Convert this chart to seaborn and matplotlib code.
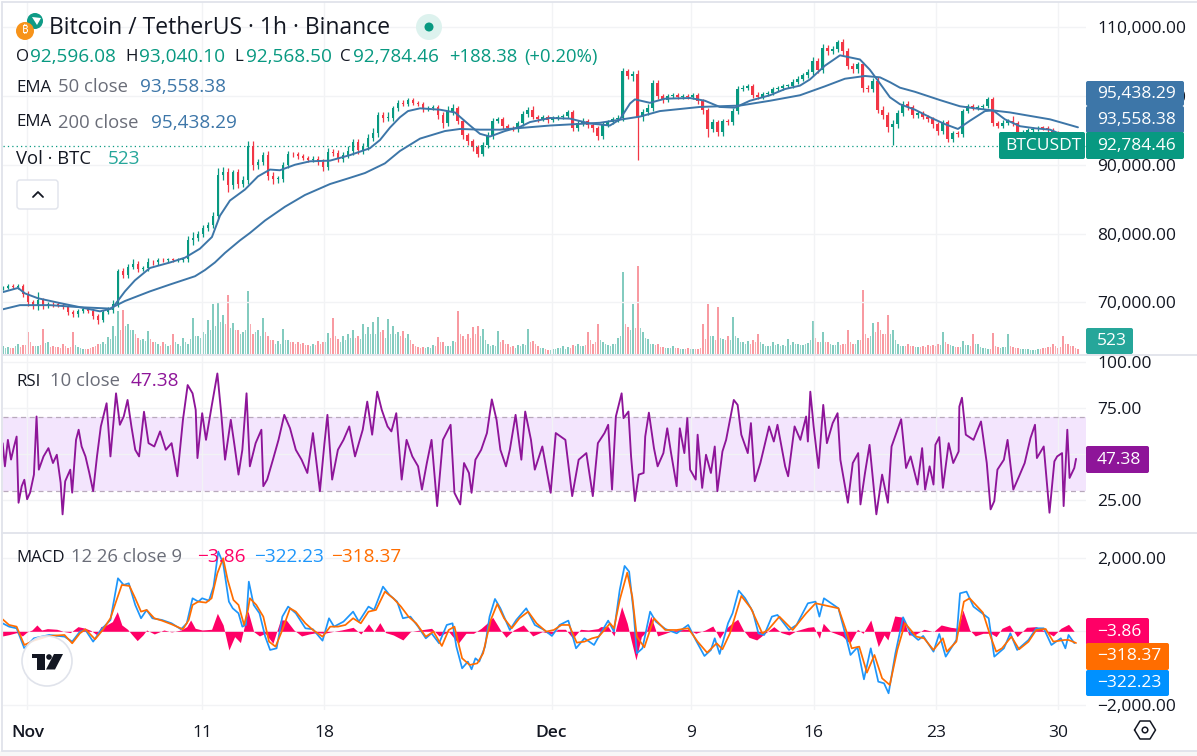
"""
BTCUSDT 1h chart with EMA, volume, RSI and MACD panels.
"""

import numpy as np
import seaborn as sns
from matplotlib import pyplot as plt
from matplotlib.lines import Line2D
from matplotlib.patches import Circle, FancyBboxPatch, Polygon, Rectangle

# days are counted from 1 Nov, prices and EMAs in thousands of USDT
close_k = [
    72.1, 72.4, 72.3, 72.4, 71.2, 70.0, 69.5, 70.3, 69.6, 69.8,
    69.7, 69.6, 69.3, 68.6, 68.3, 68.7, 69.0, 68.8, 68.0, 67.4,
    68.6, 68.9, 69.8, 74.5, 74.0, 75.2, 75.6, 74.9, 75.0, 75.9,
    75.8, 76.2, 76.1, 76.3, 76.1, 76.2, 76.3, 79.0, 79.4, 79.9,
    80.8, 81.2, 82.6, 88.5, 89.0, 87.0, 88.9, 87.2, 87.8, 92.7,
    89.9, 90.4, 91.4, 88.4, 87.9, 88.0, 89.9, 91.6, 91.5, 91.2,
    91.0, 90.7, 90.9, 90.4, 89.7, 91.8, 91.7, 90.9, 91.4, 92.0,
    93.3, 92.1, 92.7, 93.9, 94.6, 97.2, 96.8, 96.8, 98.2, 99.0,
    98.9, 99.4, 99.0, 98.8, 98.1, 98.3, 98.4, 97.2, 96.0, 97.8,
    98.3, 96.4, 94.3, 93.5, 92.6, 91.6, 92.8, 94.3, 96.4, 96.6,
    95.6, 95.4, 95.2, 96.0, 97.4, 98.0, 97.0, 96.6, 96.9, 96.5,
    96.8, 96.9, 97.1, 97.6, 95.4, 96.1, 96.4, 95.8, 95.3, 94.2,
    95.8, 96.2, 96.7, 96.8, 103.6, 102.9, 103.2, 97.0, 97.6, 98.3,
    101.9, 100.0, 99.4, 100.0, 100.1, 99.9, 100.0, 99.8, 100.1, 99.3,
    97.9, 95.2, 96.2, 94.7, 96.3, 96.2, 97.8, 101.0, 101.2, 101.4,
    100.2, 99.8, 100.3, 100.4, 101.0, 101.2, 101.5, 101.5, 102.0, 102.5,
    103.0, 103.5, 105.1, 103.8, 107.0, 106.5, 106.8, 107.8, 106.5, 104.4,
    103.9, 104.6, 101.2, 101.0, 102.2, 98.0, 97.3, 95.5, 95.9, 97.5,
    98.9, 98.4, 97.2, 97.5, 97.0, 96.6, 95.9, 94.9, 96.2, 93.8,
    94.6, 94.4, 97.8, 98.5, 98.3, 98.4, 98.6, 99.5, 96.0, 95.7,
    96.1, 96.3, 96.0, 94.5, 94.7, 95.0, 95.2, 95.4, 95.3, 95.0,
    94.6, 94.3, 93.8, 93.5, 93.2, 92.8,
]
upper_wick = [
    .3, .2, .3, .3, .3, .4, .3, 1.2, .4, .3,
    .3, .3, .3, .3, .3, .3, .4, .3, .3, .3,
    .3, .4, .5, .4, .5, .4, .7, .4, .3, .5,
    .3, .2, .3, .2, .2, .2, .2, .6, .9, .5,
    .4, .5, .5, 1.0, .7, .6, .4, .5, .6, .7,
    .7, .5, .5, .6, .5, .4, .5, .4, .3, .3,
    .3, .3, .3, .4, .4, .6, .5, .4, .5, .7,
    .5, .5, .5, .5, .7, .5, .5, .8, .4, .4,
    .4, .3, .3, .3, .3, .3, .3, .3, .4, .7,
    .5, .3, .3, .3, .3, .3, .5, .5, .4, .4,
    .3, .3, .3, .3, .4, .4, .5, .3, .4, .4,
    .3, .3, .3, .3, .3, .4, .4, .3, .3, .3,
    .4, .3, .3, .5, .4, .3, .4, .6, .5, .5,
    .4, .4, .3, .3, .3, .3, .3, .3, .3, .3,
    .3, .3, .4, .3, .3, .3, .4, .5, .4, .4,
    .3, .3, .3, .3, .3, .3, .3, .3, .4, .4,
    .4, .4, .5, .4, .5, .4, .5, .4, .5, .4,
    .4, .4, .4, .4, .4, .5, .5, .4, .6, .5,
    .4, .3, .3, .3, .3, .3, .3, .3, .3, .3,
    .3, .3, .3, .4, .3, .3, .3, .4, .3, .3,
    .4, .3, .8, .3, .3, .3, .3, .3, .3, .3,
    .3, .3, .3, .3, .3, .2,
]
lower_wick = [
    .3, .2, .3, .3, .4, .5, .5, .6, .5, .4,
    .3, .3, .3, .4, .4, .4, .3, .3, .4, .5,
    .3, .3, .4, .4, .4, .5, .4, .5, .3, .4,
    .3, .3, .2, .2, .3, .3, .4, .5, .7, .5,
    .4, .4, .4, .5, .7, .9, .5, .6, .5, .6,
    .6, .5, .5, .6, .7, .6, .5, .4, .4, .3,
    .3, .3, .3, .4, .6, .5, .4, .5, .5, .4,
    .6, .5, .5, .5, .5, .5, .6, .5, .4, .4,
    .3, .3, .3, .3, .4, .3, .3, .5, .6, .4,
    .5, .5, .5, .6, .6, .5, .4, .4, .5, .4,
    .4, .3, .3, .4, .3, .4, .4, .4, .3, .4,
    .3, .3, .3, .3, .5, .5, .4, .5, .5, .6,
    .4, .3, .3, .5, .5, .5, .7, 6.3, .6, .4,
    .5, .5, .4, .3, .3, .3, .3, .3, .3, .4,
    .5, 1.2, .5, .5, .5, .4, .4, .4, .3, .4,
    .5, .3, .3, .3, .3, .3, .3, .3, .3, .3,
    .3, .4, .5, .5, .5, .5, .4, .4, .6, .5,
    .5, .5, .6, .5, .4, .5, .6, .7, 2.7, .6,
    .4, .4, .4, .4, .4, .4, .6, .6, .5, .5,
    .5, .4, .3, .3, .4, .3, .3, .4, .3, .4,
    .3, .3, .3, .3, .3, .3, .3, .3, .3, .3,
    .3, .3, .3, .3, .3, .2,
]
# thousands of BTC
volume_k = [
    .8, .7, .6, 1.0, .9, 2.2, .8, .8, 2.5, 1.2,
    .8, .7, 1.0, .6, 2.2, .7, .5, .5, .7, 1.0,
    1.2, 1.7, 2.8, 4.3, 4.4, 3.0, 2.4, 1.6, 1.5, 2.3,
    1.2, 1.0, 1.2, .8, 2.0, 1.0, 1.6, 1.0, 3.6, 1.8,
    2.2, 3.4, 5.0, 5.1, 3.9, 5.9, 3.1, 2.4, 2.2, 6.3,
    2.0, 2.4, 3.6, 1.8, 1.4, 1.3, 2.5, 1.4, 1.2, 1.2,
    1.1, .9, 1.0, 1.3, 1.2, 2.1, 3.6, 1.5, 1.8, 2.0,
    2.4, 1.8, 3.0, 2.7, 3.2, 3.7, 2.4, 3.5, 2.8, 2.2,
    2.3, 2.0, 1.0, .7, .7, .7, .9, 1.7, 1.2, .8,
    1.3, 4.3, 1.8, 2.0, 2.7, 2.8, 2.5, 1.0, .9, 2.3,
    1.4, 1.0, .8, .9, 1.0, 2.5, 1.3, .8, .6, .4,
    .5, .6, .8, .7, .9, 1.0, .8, 2.2, 1.0, 3.0,
    1.2, .9, 1.0, 1.6, 8.2, 2.7, 5.0, 8.8, 2.2, 1.5,
    1.0, 1.0, .7, .6, .8, .6, .5, .6, .5, .5,
    3.0, 5.0, 1.8, 4.7, 1.5, 1.8, 3.7, 1.6, 1.2, 1.3,
    1.4, 2.0, 1.0, .8, 1.2, 1.0, .9, 1.5, 1.2, 1.0,
    .9, 1.1, 3.3, 1.2, 2.2, 1.2, .9, 1.2, 1.0, 2.4,
    1.0, 1.4, 6.4, 1.6, 3.1, 3.2, 2.0, 3.9, 2.4, 1.0,
    .8, 1.0, .8, .7, .8, .9, .9, 1.0, 2.2, 1.0,
    .8, .7, 1.3, .9, 2.0, 1.0, .6, .5, 2.1, .7,
    .7, 2.0, .7, .6, .5, .5, .4, .5, .6, .7,
    1.0, .6, 1.8, 1.0, .8, .52,
]
# hours in between the bars above
volume_between_k = [
    .6, .6, .8, .7, .9, 1.2, .8, .9, 1.1, .7,
    .7, .6, .8, .7, .9, .6, .5, .6, .8, 1.0,
    1.0, 1.5, 1.8, 2.4, 2.8, 2.4, 2.0, 1.4, 1.3, 1.5,
    1.2, .8, 1.0, .9, 1.2, .8, 1.2, 1.5, 1.8, 1.6,
    2.0, 2.4, 2.8, 3.2, 3.0, 2.6, 2.4, 2.0, 2.4, 3.0,
    2.2, 1.8, 2.2, 1.4, 1.0, 1.0, 1.4, 1.2, 1.0, 1.0,
    .9, .8, .9, 1.0, 1.2, 1.6, 1.8, 1.2, 1.4, 1.6,
    1.6, 1.5, 2.0, 2.0, 2.0, 2.2, 1.6, 2.0, 2.0, 1.8,
    1.6, 1.4, .8, .6, .6, .6, .8, 1.2, .8, .8,
    1.2, 2.0, 1.5, 1.6, 2.0, 1.8, 1.4, .8, .8, 1.2,
    1.0, .7, .6, .8, .9, 1.2, 1.0, .6, .5, .4,
    .5, .6, .5, .6, .8, .8, .9, 1.4, 1.2, 1.4,
    1.0, .8, 1.0, 1.8, 3.0, 2.4, 2.6, 2.6, 1.6, 1.0,
    .9, .7, .6, .6, .6, .5, .5, .5, .5, .6,
    1.5, 1.8, 1.4, 1.6, 1.4, 1.4, 1.8, 1.2, 1.0, 1.0,
    1.2, 1.2, .8, .8, .9, .8, .8, .9, 1.0, .9,
    1.0, 1.4, 1.6, 1.2, 1.2, 1.0, .9, .9, 1.0, 1.2,
    1.0, 1.4, 2.0, 1.8, 2.2, 2.4, 2.0, 2.0, 1.4, .8,
    .8, .8, .7, .7, .7, .8, .8, .9, 1.2, .9,
    .7, .7, .9, .8, 1.0, .7, .6, .5, .8, .6,
    .7, .8, .6, .5, .5, .4, .4, .5, .6, .7,
    .8, .7, 1.0, .8, .6,
]

ema50_days = [
    -1.4, -.54, -.14, .6, 1.86, 3.01, 4.15, 4.84, 5.58, 6.15, 7.01, 8.16, 9.02, 9.87,
    10.56, 11.02, 11.59, 12.45, 13.19, 13.88, 14.45, 15.31, 16.17, 17.32, 18.46, 19.6,
    20.18, 20.75, 21.32, 21.78, 22.47, 23.61, 24.47, 25.33, 25.9, 26.47, 27.33, 28.19,
    28.76, 29.91, 31.05, 32.2, 33.34, 33.91, 34.49, 34.77, 35.63, 36.49, 37.92, 38.78,
    39.63, 40.49, 41.35, 42.5, 43.36, 44.22, 44.79, 45.65, 46.51, 47.65, 48.22, 48.8,
    49.37, 49.94, 50.8, 51.66, 52.52, 53.26, 53.95, 54.81, 55.27, 55.95, 56.81, 57.67,
    58.53, 59.1, 60.13,
]
ema50_k = [
    71.5, 72.1, 71.3, 70.6, 69.9, 69.3, 68.7, 69.1, 71.6, 73.2, 75.0, 75.8, 76.5, 77.8,
    79.5, 82.6, 84.8, 86.4, 88.3, 89.3, 89.2, 90.0, 90.5, 90.6, 91.4, 92.4,
    93.6, 95.4, 96.9, 97.8, 98.2, 98.0, 97.6, 95.7, 94.5, 94.1, 94.9, 95.5,
    96.2, 96.8, 96.7, 96.0, 95.7, 96.6, 98.9, 99.5, 99.0, 99.6, 99.7, 99.3,
    98.4, 98.3, 99.3, 100.1, 101.0, 101.5, 102.4, 104.4, 105.9, 105.3, 103.8, 101.8,
    99.8, 98.8, 98.0, 96.9, 95.9, 95.2, 96.4, 97.8, 97.9, 96.6, 95.6, 95.3,
    95.1, 94.5, 93.56,
]
ema200_days = [
    -1.4, -.43, 1.29, 3.01, 4.72, 5.58, 7.01, 8.16, 9.59, 10.16, 10.73, 11.31, 12.16, 12.74,
    13.6, 14.74, 15.88, 17.32, 18.46, 19.32, 20.46, 21.32, 22.47, 23.9, 24.76, 25.9, 27.05,
    29.91, 32.77, 35.06, 36.2, 38.49, 40.78, 42.5, 44.22, 45.65, 46.79, 47.94, 48.8, 49.37,
    49.94, 50.8, 52.23, 53.37, 54.23, 56.24, 57.38, 58.53, 60.13,
]
ema200_k = [
    69.0, 69.6, 69.6, 69.3, 69.1, 70.2, 71.6, 72.6, 73.8, 74.7, 75.8, 77.2, 79.0, 80.1,
    81.9, 83.9, 85.6, 87.2, 88.1, 88.8, 90.2, 92.0, 93.8, 94.9, 95.2, 95.1, 95.1,
    95.7, 96.1, 97.0, 97.8, 98.4, 98.6, 99.3, 100.1, 101.4, 102.5, 102.9, 102.7, 102.0,
    101.2, 100.6, 99.4, 98.5, 98.2, 97.6, 97.1, 96.6, 95.44,
]

rsi_days = [
    -1.42, -1.29, -1.12, -.94, -.77, -.62, -.51, -.33, -.18, -.02, .15, .37, .52, .65, .92,
    1.2, 1.46, 1.68, 1.9, 2.01, 2.16, 2.45, 2.56, 2.78, 2.93, 3.1, 3.32, 3.54, 3.76, 3.98,
    4.2, 4.53, 4.75, 5.07, 5.29, 5.51, 5.73, 5.95, 6.17, 6.39, 6.67, 6.93, 7.26, 7.59, 7.92,
    8.25, 8.58, 8.9, 9.17, 9.45, 9.63, 9.73, 10.0, 10.22, 10.54, 10.87, 11.09, 11.31, 11.64,
    11.86, 12.08, 12.3, 12.54, 12.73, 13.06, 13.39, 13.5, 13.72, 14.05, 14.37, 14.7, 15.03,
    15.36, 15.69, 16.02, 16.34, 16.74, 17.0, 17.17, 17.44, 17.77, 18.09, 18.42, 18.75, 19.19,
    19.45, 19.73, 20.02, 20.28, 20.61, 20.83, 21.11, 21.42, 21.7, 22.03, 22.36, 22.58, 22.86,
    23.13, 23.45, 23.78, 24.22, 24.44, 24.77, 24.99, 25.27, 25.42, 25.64, 25.97, 26.3, 26.58,
    26.85, 27.07, 27.39, 27.61, 27.94, 28.27, 28.49, 28.82, 29.04, 29.47, 29.95, 30.24, 30.79,
    31.18, 31.55, 31.99, 32.36, 32.65, 33.03, 33.24, 33.46, 33.68, 34.01, 34.12, 34.4, 34.55,
    34.77, 34.99, 35.27, 35.36, 35.57, 35.86, 36.07, 36.4, 36.62, 36.84, 37.16, 37.34, 37.6,
    37.77, 37.93, 38.25, 38.36, 38.62, 38.84, 39.12, 39.34, 39.49, 39.78, 39.99, 40.43, 40.65,
    40.86, 41.23, 41.41, 41.63, 41.95, 42.45, 42.72, 42.93, 43.37, 43.54, 43.91, 44.24, 44.57,
    44.67, 44.81, 45.0, 45.28, 45.55, 45.76, 46.09, 46.37, 46.53, 46.96, 47.24, 47.55, 47.68,
    47.94, 48.2, 48.59, 48.92, 49.25, 49.46, 50.01, 50.29, 50.55, 50.95, 51.21, 51.38, 51.64,
    51.86, 51.97, 52.19, 52.4, 52.73, 52.99, 53.3, 53.34, 53.49, 53.71, 54.15, 54.58, 54.91,
    55.13, 55.34, 55.52, 55.89, 56.1, 56.43, 56.76, 57.08, 57.41, 57.67, 57.78, 58.17, 58.5,
    58.78, 58.94, 59.22, 59.31, 59.52, 59.65, 59.92, 60.02,
]
rsi_values = [
    55.9, 43.3, 57.7, 47, 54, 59.5, 23.5, 32.5, 36, 25.4, 29, 38.8, 70.4, 41.5, 48.7,
    53.2, 45.1, 49.6, 34.3, 17.2, 35.2, 41.5, 29, 57.7, 63.2, 54.1, 48.7, 39.7, 29.8, 48.7,
    65, 77.6, 48.7, 83, 65.9, 70.4, 79.4, 65, 52.3, 48.7, 73, 55.9, 54.1, 62.3, 52.3,
    55.9, 37.9, 68.6, 87.5, 83, 74, 47.8, 72.2, 57.7, 75.8, 93.8, 72.2, 46.9, 68.6,
    54.1, 38.8, 52.3, 83, 43.3, 55.9, 63.2, 32.5, 36.1, 46.9, 57.7, 71.3, 64,
    52.3, 46.9, 39.7, 61.4, 29.8, 55.9, 71.3, 36.1, 52.3, 57.7, 65, 48.7, 63.2,
    78.5, 60.5, 83.9, 74, 65, 62.3, 72.2, 36.1, 57.7, 48.7, 43.3, 30.7, 45.1,
    57.7, 21.7, 57.7, 65.9, 28.9, 22.6, 45.1, 39.7, 28.9, 46.9, 52.3, 61.4, 79.7,
    68.6, 52.3, 43.3, 52.3, 71.3, 46.9, 73.1, 57.7, 41.5, 54.1, 28.9, 61.4, 57.7,
    27.1, 46.9, 50.5, 27.1, 55.9, 61.4, 65.9, 30.7, 70.4, 83, 69.5, 73.1, 48.7,
    24.4, 38.8, 39.7, 59.5, 72.5, 53.2, 43.3, 50.5, 64, 50.5, 32.5, 64, 50.5,
    69.5, 41.5, 36.1, 60.5, 31.6, 49.6, 39.7, 54.1, 29.8, 51.4, 57.7, 79.4, 76.7,
    60.5, 50.5, 66.8, 35.2, 45.1, 65, 56.8, 65.9, 43.3, 37.9, 65, 57.7, 70.4,
    56.8, 83.9, 65, 42.4, 76.7, 55.9, 66.8, 72.2, 46.9, 23.5, 45.1, 50.5, 22.6,
    39.7, 55, 17.2, 38.8, 23.5, 54.1, 68.9, 42.4, 48.7, 33.4, 53.2, 30.7, 43.3,
    33.4, 55, 59.2, 31.6, 55.9, 45.1, 51.4, 75.8, 80.6, 60.5, 57.7, 67.7, 45.1,
    19.9, 24.4, 41.5, 46.9, 57.7, 30.7, 37.9, 45.1, 58.6, 65.9, 47.8, 54.1, 18.1,
    46, 48.7, 50.5, 21.7, 63.2, 37, 42.4, 47.38,
]

macd_days = [
    -1.42, -1.05, -.62, -.18, .37, 1.24, 2.12, 2.56, 3.0, 3.32, 3.76, 4.2, 4.75, 5.18, 5.51,
    5.8, 6.17, 6.5, 6.82, 7.15, 7.7, 8.25, 8.79, 9.12, 9.45, 9.78, 10.0, 10.39, 10.65, 10.92,
    11.2, 11.53, 11.75, 12.08, 12.3, 12.51, 12.67, 12.95, 13.28, 13.61, 13.89, 14.26, 14.59,
    14.92, 15.36, 15.91, 16.34, 16.89, 17.26, 17.55, 18.09, 18.64, 18.97, 19.52, 19.84, 20.35,
    20.72, 21.16, 21.49, 21.92, 22.36, 22.8, 23.13, 23.56, 24.0, 24.33, 24.55, 24.88, 25.21,
    25.42, 25.64, 25.86, 26.19, 26.45, 26.76, 27.07, 27.61, 27.98, 28.55, 29.04, 29.58, 30.02,
    30.46, 30.96, 31.4, 31.88, 32.43, 32.7, 33.24, 33.57, 33.9, 34.18, 34.44, 34.7, 34.88,
    35.2, 35.64, 35.97, 36.51, 37.16, 37.82, 38.25, 38.75, 39.12, 39.34, 39.62, 40.1, 40.36,
    40.71, 41.08, 41.52, 41.84, 42.17, 42.61, 42.93, 43.59, 44.02, 44.67, 45.11, 45.33, 45.59,
    46.42, 46.85, 47.11, 47.51, 47.88, 48.27, 48.7, 49.03, 49.29, 49.68, 50.12, 50.55, 50.99,
    51.27, 51.86, 52.19, 52.56, 53.17, 53.38, 53.75, 54.15, 55.02, 55.34, 55.89, 56.26, 56.65,
    57.3, 57.74, 58.17, 58.61, 59.15, 59.41, 59.59, 59.92,
]
macd_values = [
    218, 127, 82, -464, -191, -100, -145, -282, -9, 36, -282, 36, 309, 1445, 1264,
    1309, 718, 355, 582, 355, 309, 218, 55, 218, 900, 809, 900, 836, 1218, 2173,
    1854, 809, 627, 491, 127, 173, 1354, 718, 491, -145, -509, -464, 400,
    673, 491, 82, 55, -255, 355, 127, 264, 536, 264, 673, 582, 1218,
    991, 809, 355, 400, 127, -191, -55, -327, 173, 218, -418, -1009, -827,
    -1036, -736, -827, -418, 400, 882, 627, 36, 309, 627, 173, 36, -127,
    173, 291, -464, -191, -373, -145, 291, -9, 1127, 1782, 1627, 491, -600,
    -464, 536, 264, 64, -55, 173, -236, -673, -509, -191, -618, 218, 491,
    1109, 900, 536, -55, -100, 400, 445, 36, 173, 764, 809, 400, 900,
    627, -145, -645, -436, -1309, -464, -1373, -1418, -1691, -600, 382, -55, -236,
    -127, -555, -73, -691, -236, 1036, 1082, 673, 355, -691, -464, -55, -509,
    -236, 82, 82, -373, -191, -464, -100, -322.23,
]
signal_days = [
    -1.42, -1.05, -.62, -.18, .37, 1.24, 2.12, 2.56, 3.0, 3.32, 3.87, 4.31, 4.75, 5.07, 5.4,
    5.84, 6.17, 6.5, 6.82, 7.26, 7.7, 8.25, 8.9, 9.23, 9.45, 9.78, 10.22, 10.54, 10.87, 11.2,
    11.46, 11.79, 12.08, 12.4, 12.62, 12.73, 13.1, 13.5, 13.83, 14.2, 14.59, 15.03, 15.36,
    15.91, 16.34, 16.89, 17.33, 17.77, 18.2, 18.64, 19.08, 19.52, 19.95, 20.46, 20.94, 21.38,
    21.81, 22.25, 22.8, 23.24, 23.72, 24.11, 24.44, 24.88, 25.31, 25.75, 26.08, 26.52, 26.89,
    27.28, 27.72, 28.16, 28.66, 29.14, 29.69, 30.13, 30.57, 31.0, 31.44, 31.88, 32.32, 32.7,
    33.35, 33.57, 33.9, 34.33, 34.62, 34.88, 35.31, 35.86, 36.51, 37.16, 37.82, 38.36, 38.9,
    39.45, 39.78, 40.21, 40.86, 41.41, 42.06, 42.39, 43.04, 43.8, 44.57, 45.11, 45.55, 46.42,
    46.85, 47.18, 47.61, 48.05, 48.48, 48.92, 49.36, 49.79, 50.23, 50.88, 51.32, 51.86, 52.4,
    52.62, 53.17, 53.6, 53.93, 54.69, 55.13, 55.45, 55.78, 56.32, 56.76, 57.3, 57.74, 58.28,
    58.72, 59.37, 59.59, 60.02,
]
signal_values = [
    327, 173, 127, -373, -255, -127, -100, -327, -55, 55, -218, 36, 355, 809, 1264,
    1236, 900, 536, 582, 355, 291, 191, 55, 309, 718, 809, 782, 900, 1582, 1991,
    1400, 854, 718, 173, 582, 900, 718, 400, -282, -418, 36, 627, 536,
    218, 36, -145, 127, 127, 173, 355, 218, 536, 582, 1082, 900, 673,
    400, 218, -145, -9, -400, 36, 127, -736, -918, -873, -600, 309, 745,
    355, 82, 355, 536, 218, -9, 36, 173, 173, -309, -282, -191, -145,
    218, 82, 854, 1600, 945, -145, -436, 355, 36, 36, 82, -282, -582,
    -327, -491, -55, 964, 627, -55, 36, 400, 36, 491, 764, 718, 627,
    36, -464, -418, -1127, -645, -1282, -1464, -509, 218, -145, -191, -509, -191,
    -555, -282, 809, 900, 509, -145, -555, -464, -145, -491, -282, 36, 64,
    -282, -236, -236, -318.37,
]
hist_days = [
    -1.42, -1.05, -.62, -.29, -.02, .26, .54, .81, 1.14, 1.68, 2.12, 2.45, 2.89, 3.32, 3.65,
    3.98, 4.2, 4.53, 4.86, 5.14, 5.4, 5.73, 5.95, 6.28, 6.61, 6.82, 7.26, 7.81, 8.25, 8.79,
    9.12, 9.34, 9.6, 10.0, 10.54, 10.87, 11.2, 11.53, 11.86, 12.19, 12.62, 12.95, 13.28, 13.61,
    14.05, 14.48, 14.81, 15.25, 15.69, 16.12, 16.56, 17.0, 17.44, 17.98, 18.64, 19.08, 19.52,
    19.84, 20.17, 20.5, 20.94, 21.49, 21.92, 22.47, 23.13, 23.56, 24.11, 24.66, 25.1, 25.53,
    25.97, 26.3, 26.63, 27.07, 27.39, 27.83, 28.38, 28.92, 29.47, 30.02, 30.35, 30.79, 31.22,
    31.66, 32.1, 32.65, 32.81, 33.24, 33.57, 34.01, 34.33, 34.55, 34.83, 35.14, 35.42, 35.68,
    36.07, 36.51, 37.05, 37.82, 38.25, 38.8, 39.23, 39.62, 39.99, 40.32, 40.65, 40.97, 41.3,
    41.74, 42.17, 42.72, 43.15, 43.59, 44.02, 44.67, 45.0, 45.33, 45.55, 45.98, 46.63, 47.07,
    47.51, 47.83, 48.27, 48.7, 49.03, 49.25, 49.64, 50.12, 50.44, 50.77, 51.32, 51.86, 52.3,
    52.84, 53.28, 53.54, 53.93, 54.25, 54.69, 55.13, 55.45, 55.78, 56.21, 56.65, 57.19, 57.74,
    58.28, 58.72, 59.15, 59.59, 59.92,
]
hist_values = [
    -127, -91, -36, -127, -18, 36, 173, 36, 73, 55, -9, -36, 127, 82, 18,
    -100, 127, 173, 264, 536, 173, 55, -73, -255, -100, 36, -73, 36, -18, 36,
    127, 309, 82, 36, 55, 491, 173, -509, -145, -309, 555, -9, -127, -55,
    -327, 309, 309, 36, -127, -73, -36, -55, -9, 36, 109, -73, 200,
    -9, 236, -36, -100, -236, -9, 36, 82, -127, -9, -327, -55, -55,
    82, 218, 382, 36, -164, 36, 173, -127, -9, -73, 55, 55, -191,
    55, 36, 73, 127, 127, -127, 673, 218, -236, -782, -145, -9, 418,
    -127, -55, 36, 55, -55, 36, 145, -191, 82, 218, 327, 36, -164,
    -236, -73, 127, -36, -100, 18, 109, 127, -191, 218, -9, -127, -327,
    55, -55, 309, -418, -100, -236, 418, 382, -100, -100, 55, -9, 173,
    109, 82, 582, 36, -127, -55, -55, -145, 82, 173, -145, 109, 127,
    -9, -127, 82, 191, -3.86,
]

price_ticks = [70, 80, 90, 100, 110]
rsi_ticks = [25, 50, 75, 100]
macd_ticks = [-2000, 2000]
date_ticks = [0, 10, 17, 30, 38, 45, 52, 59]
date_labels = ["Nov", "11", "18", "Dec", "9", "16", "23", "30"]

W, H = 1197, 756
GREEN, RED = "#089981", "#F23645"
EMA_BLUE = "#3D76A8"
PURPLE = "#8E1599"
MAGENTA = "#FF0066"
BLUE = "#1E96FA"
ORANGE = "#FF6D00"
GRID = "#F2F3F5"
EDGE = "#E0E3EB"
INK = "#131722"
MUTED = "#6A6D78"
LEFT_DAY, RIGHT_DAY = -1.4, 60.59
NUMBER_SIZE = 13.7
NAME_SIZE = 13.3
LABEL_SIZE = 12.2

sns.set_style("white")
plt.rcParams["font.family"] = ["Open Sans", "DejaVu Sans"]

fig = plt.figure(figsize=(W / 100, H / 100), dpi=100, facecolor="white")


def panel(top, bottom, left=3, right=1086):
    ax = fig.add_axes(
        [left / W, 1 - bottom / H, (right - left) / W, (bottom - top) / H],
        facecolor="none",
    )
    ax.set_xlim(LEFT_DAY, RIGHT_DAY)
    sns.despine(ax=ax, left=True, bottom=True, right=True, top=True)
    ax.set_xticks(date_ticks, [])
    ax.yaxis.tick_right()
    ax.tick_params(length=0, labelsize=12.5, labelcolor=INK)
    ax.grid(True, color=GRID, lw=1)
    ax.set_axisbelow(True)
    return ax


def line(ax, x, y, color, lw):
    sns.lineplot(
        x=x, y=y, ax=ax, color=color, lw=lw, estimator=None, sort=False, legend=False,
        solid_joinstyle="round",
    )
    ax.set_xlabel("")
    ax.set_ylabel("")


def money(v):
    return f"{v:,.2f}".replace("-", "\u2212")


# volume sits under the candles on its own scale
vol_ax = panel(2, 354)
vol_ax.set_ylim(0, 35.2)
vol_ax.grid(False)
vol_ax.set_yticks([])

price_ax = panel(2, 354)
price_ax.set_ylim(62.5, 113.65)
price_ax.set_yticks(price_ticks, [money(v * 1000) for v in price_ticks])
price_ax.tick_params(axis="y", pad=8)

closes = np.array(close_k)
opens = np.r_[closes[0], closes[:-1]]
highs = np.maximum(opens, closes) + np.array(upper_wick)
lows = np.minimum(opens, closes) - np.array(lower_wick)
candle_days = np.linspace(-1.4, 60.13, len(closes))
candle_colors = [GREEN if c >= o else RED for o, c in zip(opens, closes)]
between_days = (candle_days[:-1] + candle_days[1:]) / 2

vol_ax.bar(between_days, volume_between_k, width=0.09, color=candle_colors[1:], alpha=0.42, lw=0)
vol_ax.bar(candle_days, volume_k, width=0.09, color=candle_colors, alpha=0.5, lw=0)
price_ax.axhline(92.78446, color=GREEN, lw=0.9, ls=(0, (1, 2.5)))
price_ax.vlines(candle_days, lows, highs, colors=candle_colors, lw=0.9)
price_ax.bar(
    candle_days,
    np.maximum(np.abs(closes - opens), 0.12),
    bottom=np.minimum(opens, closes),
    width=0.17,
    color=candle_colors,
    lw=0,
)
line(price_ax, ema50_days, ema50_k, EMA_BLUE, 1.4)
line(price_ax, ema200_days, ema200_k, EMA_BLUE, 1.4)

rsi_ax = panel(356, 532)
rsi_ax.set_ylim(7.6, 103.3)
rsi_ax.set_yticks(rsi_ticks, [f"{v:.2f}" if v != 50 else "" for v in rsi_ticks])
rsi_ax.tick_params(axis="y", pad=8)
rsi_ax.axhspan(30, 70, color="#F3E5FD", lw=0, zorder=0.5)
for level in (30, 70):
    rsi_ax.axhline(level, color="#B8A9BC", lw=0.9, ls=(0, (4, 3)))
line(rsi_ax, rsi_days, rsi_values, PURPLE, 1.35)

macd_ax = panel(534, 710)
macd_ax.set_ylim(-2146, 2653)
macd_ax.set_yticks(macd_ticks, [money(v) for v in macd_ticks])
macd_ax.tick_params(axis="y", pad=8)
macd_ax.axhline(0, color=GRID, lw=1, zorder=0.5)
macd_ax.set_xticks(date_ticks, date_labels)
macd_ax.tick_params(axis="x", pad=10.5)
for tick in macd_ax.get_xticklabels():
    if tick.get_text() in ("Nov", "Dec"):
        tick.set_fontweight("semibold")
macd_ax.fill_between(hist_days, 0, hist_values, color=MAGENTA, lw=0)
line(macd_ax, macd_days, macd_values, BLUE, 1.25)
line(macd_ax, signal_days, signal_values, ORANGE, 1.25)

# everything below is placed in screen pixels on a full size layer
top = fig.add_axes([0, 0, 1, 1], facecolor="none")
top.set_xlim(0, W)
top.set_ylim(H, 0)
top.axis("off")

top.add_patch(Rectangle((0, 751), W, 5, color="#F7F7F7", lw=0))
for xs, ys in [
    ([2, W], [1.5, 1.5]),
    ([2, 2], [1.5, 750.5]),
    ([2, W], [750.5, 750.5]),
    ([2, W], [355, 355]),
    ([2, W], [533, 533]),
]:
    top.add_line(Line2D(xs, ys, color=EDGE, lw=1.3))


def write(x, y, s, color=INK, size=NUMBER_SIZE, **kw):
    top.text(x, y, s, color=color, fontsize=size, va="center", ha="left", **kw)


def tag(x0, y0, x1, y1, s, color, tx=1097):
    top.add_patch(
        FancyBboxPatch(
            (x0, y0), x1 - x0, y1 - y0, boxstyle="round,pad=0,rounding_size=2",
            fc=color, ec="none", zorder=3,
        )
    )
    top.text(tx, (y0 + y1) / 2, s, color="white", fontsize=12.5, va="center", ha="left", zorder=4)


tag(1086, 81, 1184, 106, "95,438.29", EMA_BLUE)
tag(1086, 106, 1184, 133, "93,558.38", EMA_BLUE)
tag(999, 132, 1085, 159, "BTCUSDT", GREEN, tx=1005)
tag(1086, 132, 1184, 159, "92,784.46", GREEN)
tag(1086, 328, 1133, 354, "523", "#26A69A")
tag(1086, 446, 1149, 473, "47.38", PURPLE)
tag(1086, 618, 1149, 645, "\u22123.86", MAGENTA)
tag(1086, 643, 1169, 670, "\u2212318.37", ORANGE)
tag(1086, 670, 1169, 696, "\u2212322.23", "#0091FF")

# symbol header
top.add_patch(Circle((35, 21), 8, color="#0E9B86", lw=0))
top.add_patch(Polygon([(32, 17), (41, 18), (37, 25)], color="white", lw=0))
top.add_patch(Circle((25, 31), 9, color="#F7931A", lw=0))
top.text(25, 31, "\u20bf", color="white", fontsize=8, ha="center", va="center",
         family=["Noto Sans", "Roboto", "Liberation Sans", "DejaVu Sans"], fontweight="bold")
write(49, 28.5, "Bitcoin / TetherUS \u00b7 1h \u00b7 Binance", size=16.5)
top.add_patch(Circle((429, 27), 13, color="#DDF2EE", lw=0))
top.add_patch(Circle((429, 27), 4.5, color=GREEN, lw=0))

for x, s, color, size in [
    (16, "O", INK, LABEL_SIZE), (30, "92,596.08", GREEN, NUMBER_SIZE),
    (125, "H", INK, LABEL_SIZE), (139, "93,040.10", GREEN, NUMBER_SIZE),
    (234, "L", INK, LABEL_SIZE), (246, "92,568.50", GREEN, NUMBER_SIZE),
    (340, "C", INK, LABEL_SIZE), (353, "92,784.46", GREEN, NUMBER_SIZE),
    (449, "+188.38", GREEN, NAME_SIZE), (524, "(+0.20%)", GREEN, NAME_SIZE),
]:
    write(x, 57, s, color, size)

write(16, 87.5, "EMA", size=LABEL_SIZE)
write(58, 87.5, "50 close", MUTED, NAME_SIZE)
write(140, 87.5, "93,558.38", EMA_BLUE)
write(16, 122.5, "EMA", size=LABEL_SIZE)
write(58, 122.5, "200 close", MUTED, NAME_SIZE)
write(151, 122.5, "95,438.29", EMA_BLUE)
write(16, 158.5, "Vol \u00b7 BTC", size=NAME_SIZE)
write(108, 158.5, "523", "#26A69A")

top.add_patch(FancyBboxPatch(
    (17, 180), 41, 29, boxstyle="round,pad=0,rounding_size=3", fc="white", ec=EDGE, lw=1,
))
top.add_line(Line2D([33, 38, 43], [197, 192, 197], color=INK, lw=1.3))

write(16, 381.5, "RSI", size=LABEL_SIZE)
write(50, 381.5, "10 close", MUTED, NAME_SIZE)
write(131, 381.5, "47.38", PURPLE)

write(16, 557.5, "MACD", size=LABEL_SIZE)
write(71, 557.5, "12 26 close 9", MUTED, NAME_SIZE)
write(197, 557.5, "\u22123.86", MAGENTA)
write(254, 557.5, "\u2212322.23", BLUE)
write(331, 557.5, "\u2212318.37", ORANGE)

# watermark logo and settings button
top.add_patch(Circle((47, 661), 25, fc=(1, 1, 1, 0.85), ec=EDGE, lw=1.2))
top.add_patch(Polygon([(32, 654), (45, 654), (45, 669.5), (37, 669.5), (37, 658), (32, 658)],
                      color=INK, lw=0))
top.add_patch(Circle((49, 657), 2.8, color=INK, lw=0))
top.add_patch(Polygon([(54, 654), (63, 654), (55, 669.5), (46, 669.5)], color=INK, lw=0))

hex_x = [1134.5, 1140, 1150, 1155.5, 1150, 1140, 1134.5]
hex_y = [730, 721, 721, 730, 739, 739, 730]
top.add_line(Line2D(hex_x, hex_y, color=INK, lw=1.1))
top.add_patch(Circle((1145, 730), 2.8, fc="none", ec=INK, lw=1.1))

plt.savefig("out.png", dpi=100)
plt.close()
